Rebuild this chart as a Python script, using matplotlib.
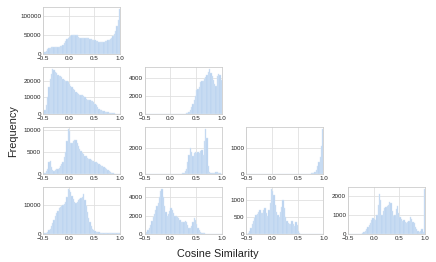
import numpy as np
import matplotlib
matplotlib.use('Agg')
import matplotlib.pyplot as plt
import seaborn as sns

# histogram bins: 60 bins of width 0.025 over [-0.5, 1.0]
bin_edges = np.linspace(-0.5, 1.0, 61)

# counts per bin (row, col) of lower triangle
h_00 = [2000, 5000, 8000, 11000, 14000, 16000, 18000, 18000,
        18000, 17500, 17500, 17500, 18000, 19000, 21000, 24000,
        28000, 33000, 38000, 42000, 45000, 47000, 49000, 50000,
        50500, 50000, 48000, 45000, 42000, 40000, 40000, 41000,
        42000, 42000, 41000, 40000, 39000, 38000, 37000, 36000,
        35000, 34000, 33000, 32000, 31000, 31000, 31000, 32000,
        33000, 34000, 35000, 37000, 39000, 42000, 46000, 52000,
        60000, 72000, 90000, 119000]
h_10 = [800, 2000, 5000, 10000, 16000, 21000, 24000, 27000,
        26500, 25000, 24500, 23500, 23000, 22500, 22000, 21000,
        20500, 20000, 19500, 19000, 18000, 17000, 16000, 15000,
        14000, 13000, 12500, 12000, 11500, 11500, 11000, 10500,
        10000, 9000, 8500, 8000, 8000, 7800, 7500, 7000,
        6000, 5000, 4000, 3000, 2500, 2000, 1800, 1500,
        1200, 1000, 800, 600, 400, 300, 200, 150,
        100, 60, 30, 10]
h_11 = [0] * 32 + [30, 80, 200, 400, 700, 1100, 1500, 2000,
        2600, 2800, 3000, 3500, 3700, 3600, 3900, 4100,
        4300, 4700, 5000, 4600, 4200, 3800, 3300, 3100,
        4200, 4400, 4300, 3800]
h_20 = [100, 300, 600, 1200, 2800, 3000, 1500, 800,
        700, 800, 1000, 1200, 1400, 1700, 2200, 2800,
        3800, 5000, 7500, 10300, 9800, 7200, 7000, 7500,
        7700, 7800, 7200, 6500, 5800, 5200, 4800, 4500,
        4200, 4000, 3700, 3500, 3300, 3100, 3000, 2900,
        2800, 2700, 2500, 2300, 2100, 1900, 1700, 1500,
        1300, 1100, 900, 700, 400, 200, 80, 20,
        0, 0, 0, 0]
h_21 = [0] * 28 + [20, 50, 100, 200, 400, 900, 1500, 2000,
        1700, 1400, 1600, 1700, 1650, 1700, 1600, 1800,
        1900, 1500, 2600, 3500, 2800, 600, 150, 80,
        60, 100, 80, 150, 120, 60, 30, 20]
h_22 = [0] * 48 + [5, 10, 20, 30, 50, 80, 150, 300,
        450, 650, 1100, 1750]
h_30 = [50, 200, 400, 800, 1200, 1800, 2600, 3600,
        4800, 6000, 7200, 8000, 8800, 9300, 9600, 9800,
        10200, 10800, 12500, 15300, 15000, 14200, 13000, 11800,
        10800, 10500, 11000, 11500, 11800, 12200, 12800, 13600,
        11500, 9500, 7500, 5500, 4000, 2800, 1800, 1200,
        900, 700, 600, 550, 500, 450, 400, 380,
        350, 330, 300, 280, 260, 250, 240, 230,
        220, 220, 250, 400]
h_31 = [50, 200, 450, 700, 1000, 1400, 1800, 2200,
        2600, 3000, 3400, 4000, 4700, 4850, 4000, 3000,
        2400, 2000, 2200, 2500, 2800, 2600, 2300, 2000,
        1900, 1800, 1700, 1500, 1300, 1250, 1300, 1400,
        1300, 1000, 700, 650, 900, 1300, 1700, 1500,
        1100, 700, 400, 250, 150, 100, 60, 30,
        20, 10, 5, 0, 0, 0, 0, 0,
        0, 0, 0, 0]
h_32 = [10, 40, 100, 180, 280, 380, 480, 560,
        580, 650, 700, 620, 600, 700, 760, 600,
        520, 700, 900, 1310, 1250, 1150, 850, 650,
        550, 500, 650, 800, 1000, 750, 500, 380,
        320, 280, 300, 380, 300, 220, 360, 250,
        100, 30, 10, 0] + [0] * 16
h_33 = [0] * 10 + [20, 50, 100, 170, 250, 350,
        450, 550, 750, 850, 800, 750, 1000, 1500,
        2100, 1800, 1000, 1200, 1350, 1400, 1450, 1500,
        1700, 1650, 1200, 950, 1000, 1300, 1450, 1100,
        900, 800, 700, 750, 650, 600, 650, 700,
        900, 800, 650, 550, 350, 250, 150, 80,
        150, 250, 100, 2350]

panels = {(0, 0): h_00, (1, 0): h_10, (1, 1): h_11,
          (2, 0): h_20, (2, 1): h_21, (2, 2): h_22,
          (3, 0): h_30, (3, 1): h_31, (3, 2): h_32, (3, 3): h_33}
yticks = {(0, 0): [0, 50000, 100000], (1, 0): [0, 10000, 20000],
          (1, 1): [0, 2000, 4000], (2, 0): [0, 5000, 10000],
          (2, 1): [0, 2000], (2, 2): [0, 1000], (3, 0): [0, 10000],
          (3, 1): [0, 2000, 4000], (3, 2): [0, 500, 1000],
          (3, 3): [0, 1000, 2000]}
xticks = [-0.5, 0.0, 0.5, 1.0]

sns.set_style('whitegrid')
plt.rcParams['font.family'] = ['Liberation Sans', 'DejaVu Sans']

fig, axes = plt.subplots(4, 4, figsize=(4.36, 2.62), dpi=100)
plt.subplots_adjust(left=0.099, right=0.975, top=0.975, bottom=0.107,
                    wspace=0.32, hspace=0.28)

for r in range(4):
    for c in range(4):
        ax = axes[r, c]
        if c > r:
            ax.axis('off')
            continue
        counts = panels[(r, c)]
        ax.hist(bin_edges[:-1], bins=bin_edges, weights=counts,
                color='#b8d2ef', edgecolor='#d6e5f6', linewidth=0.3)
        ax.set_xlim(-0.5, 1.0)
        ax.set_xticks(xticks)
        ax.set_yticks(yticks[(r, c)])
        ax.tick_params(labelsize=4.5, pad=1.5, length=0, labelcolor='#222222')
        for s in ax.spines.values():
            s.set_color('#cccccc')
            s.set_linewidth(0.6)
        ax.grid(True, color='#e0e0e0', linewidth=0.6)
        ax.set_axisbelow(True)

fig.text(0.5, 0.032, 'Cosine Similarity', ha='center', va='center',
         fontsize=7.8, color='#222222')
fig.text(0.03, 0.5, 'Frequency', ha='center', va='center', rotation=90,
         fontsize=7.8, color='#222222')

fig.savefig('out.png', dpi=100)
